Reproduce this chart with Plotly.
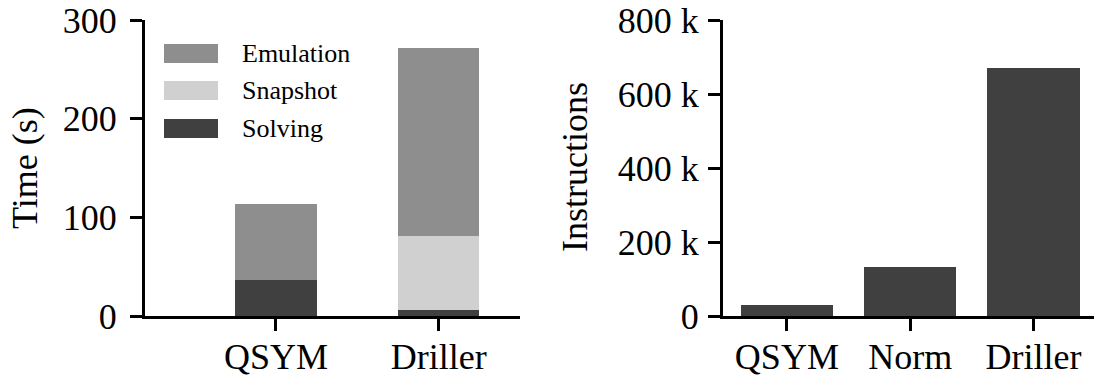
import plotly.graph_objects as go

# Time breakdown per tool (seconds)
tools_time = ["QSYM", "Driller"]
solving = [36.5, 6]
snapshot = [0, 75]
emulation = [77, 190.5]

# Executed instructions per tool
tools_instr = ["QSYM", "Norm", "Driller"]
instructions = [30000, 132000, 669000]

time_ticks = [0, 100, 200, 300]
instr_ticks = [0, 200000, 400000, 600000, 800000]
instr_tick_text = ["0", "200 k", "400 k", "600 k", "800 k"]

C_EMU = "#8e8e8e"
C_SNAP = "#d0d0d0"
C_SOLVE = "#404040"
FONT = "Liberation Serif"

W, H = 1094, 379


def px_x(p):
    return p / W


def px_y(p):
    return (H - p) / H


fig = go.Figure()

bar_line = dict(width=0)
fig.add_trace(go.Bar(x=tools_time, y=solving, name="Solving",
                     marker=dict(color=C_SOLVE, line=bar_line),
                     width=0.5, xaxis="x", yaxis="y", showlegend=False))
fig.add_trace(go.Bar(x=tools_time, y=snapshot, name="Snapshot",
                     marker=dict(color=C_SNAP, line=bar_line),
                     width=0.5, xaxis="x", yaxis="y", showlegend=False))
fig.add_trace(go.Bar(x=tools_time, y=emulation, name="Emulation",
                     marker=dict(color=C_EMU, line=bar_line),
                     width=0.5, xaxis="x", yaxis="y", showlegend=False))

fig.add_trace(go.Bar(x=tools_instr, y=instructions, name="Instructions",
                     marker=dict(color=C_SOLVE, line=bar_line),
                     width=0.75, xaxis="x2", yaxis="y2", showlegend=False))

ydom = [px_y(316), px_y(20)]

axis_common = dict(
    showline=True, linecolor="black", linewidth=3,
    ticks="outside", ticklen=12, tickwidth=3, tickcolor="black",
    showgrid=False, zeroline=False, automargin=False,
    tickfont=dict(family=FONT, size=36, color="black"),
)

fig.update_layout(
    width=W, height=H,
    margin=dict(l=0, r=0, t=0, b=0),
    paper_bgcolor="white", plot_bgcolor="white",
    barmode="stack", bargap=0,
    font=dict(family=FONT, color="black"),
    xaxis=dict(domain=[px_x(145), px_x(520)], anchor="y", type="category",
               range=[-0.805, 1.5], ticklabelstandoff=-5, **axis_common),
    yaxis=dict(domain=ydom, anchor="x", range=[0, 300], tickvals=time_ticks,
               ticklabelstandoff=6, **axis_common),
    xaxis2=dict(domain=[px_x(723), 1.0], anchor="y2", type="category",
                range=[-0.518, 2.49], ticklabelstandoff=-5, **axis_common),
    yaxis2=dict(domain=ydom, anchor="x2", range=[0, 800000], tickvals=instr_ticks,
                ticktext=instr_tick_text, ticklabelstandoff=2, **axis_common),
)

# Axis titles
fig.add_annotation(text="Time (s)", x=px_x(25), y=px_y(168), xref="paper", yref="paper",
                   textangle=-90, showarrow=False, xanchor="center", yanchor="middle",
                   font=dict(family=FONT, size=36, color="black"))
fig.add_annotation(text="Instructions", x=px_x(575), y=px_y(167), xref="paper", yref="paper",
                   textangle=-90, showarrow=False, xanchor="center", yanchor="middle",
                   font=dict(family=FONT, size=36, color="black"))

# Legend drawn as swatches + labels
legend_items = [("Emulation", C_EMU, 53.5), ("Snapshot", C_SNAP, 90.5), ("Solving", C_SOLVE, 128.5)]
for label, color, cy in legend_items:
    fig.add_shape(type="rect", xref="paper", yref="paper",
                  x0=px_x(164), x1=px_x(218), y0=px_y(cy + 9.5), y1=px_y(cy - 9.5),
                  fillcolor=color, line=dict(width=0))
    fig.add_annotation(text=label, x=px_x(240), y=px_y(cy), xref="paper", yref="paper",
                       showarrow=False, xanchor="left", yanchor="middle",
                       font=dict(family=FONT, size=26, color="black"))

fig.write_html("out.html")
